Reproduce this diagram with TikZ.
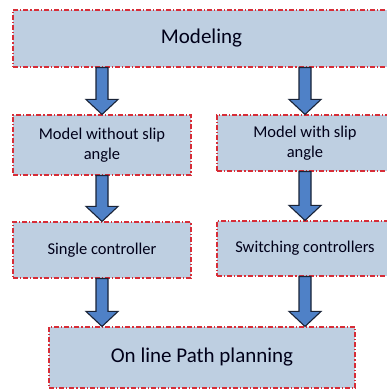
\documentclass[tikz,border=0pt]{standalone}
\usepackage{fontspec}
\setmainfont{Carlito}
\usetikzlibrary{calc, positioning}

\definecolor{boxfill}{RGB}{190,207,225}
\definecolor{boxedge}{RGB}{215,45,55}
\definecolor{arrowfill}{RGB}{79,129,199}
\definecolor{arrowedge}{RGB}{25,35,55}

% fat block arrow from #1 down to #2 (same x)
\newcommand{\fatarrow}[2]{%
    \path[fatarrow] let \p1=(#1), \p2=(#2) in
        (\x1-6pt,\y1) -- (\x1-6pt,\y2+15pt) -- (\x1-16pt,\y2+15pt)
        -- (\x1,\y2) -- (\x1+16pt,\y2+15pt) -- (\x1+6pt,\y2+15pt)
        -- (\x1+6pt,\y1) -- cycle;
}

\begin{document}
\begin{tikzpicture}[
    x=1pt, y=1pt,
    block/.style={draw=boxedge, fill=boxfill, line width=1.1pt,
                  dash pattern=on 5pt off 2pt on 1.2pt off 2pt,
                  inner sep=2pt, align=center, text=black!90!blue,
                  font=\fontsize{16.5}{20}\selectfont},
    bigblock/.style={block, font=\fontsize{21}{24}\selectfont},
    fatarrow/.style={fill=arrowfill, draw=arrowedge, line width=1.1pt,
                     line join=miter},
]
\useasboundingbox (0,0) rectangle (387,390);

% ---------------- top stage ---------------------------------------------
\node[bigblock, minimum width=377pt, minimum height=57pt] (modeling) at (201.5,351.5)
    {Modeling};

% ---------------- models --------------------------------------------------
\node[block, minimum width=178pt, minimum height=60pt] (lmodel) at (102,245)
    {Model without slip\\angle};
\node[block, minimum width=176pt, minimum height=56pt] (rmodel) at (305,247)
    {Model with slip\\angle};

% ---------------- controllers ---------------------------------------------
\node[block, minimum width=178pt, minimum height=56pt] (lctrl) at (102,140)
    {Single controller};
\node[block, minimum width=176pt, minimum height=55pt] (rctrl) at (305,141.5)
    {Switching controllers};

% ---------------- planning ------------------------------------------------
\node[bigblock, minimum width=306pt, minimum height=61pt] (planning) at (202,32.5)
    {On line Path planning};

% ---------------- arrows --------------------------------------------------
\fatarrow{modeling.south -| lmodel.north}{lmodel.north}
\fatarrow{modeling.south -| rmodel.north}{rmodel.north}
\fatarrow{lmodel.south}{lctrl.north}
\fatarrow{rmodel.south}{rctrl.north}
\fatarrow{lctrl.south}{lctrl.south |- planning.north}
\fatarrow{rctrl.south}{rctrl.south |- planning.north}

\end{tikzpicture}
\end{document}
